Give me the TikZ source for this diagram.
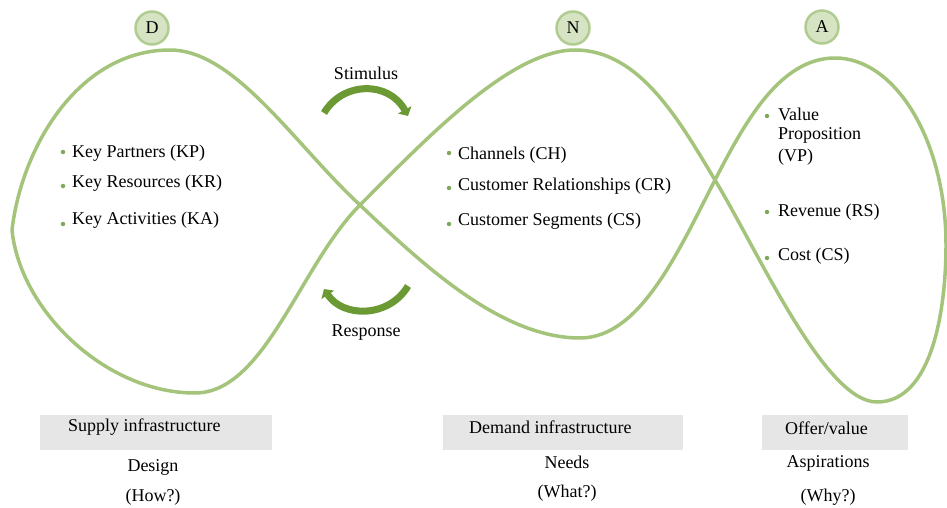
\documentclass[tikz,border=0pt]{standalone}
\usepackage{fontspec}
\setmainfont{Liberation Serif}
\usetikzlibrary{arrows.meta}
\definecolor{loopgreen}{HTML}{A3C47A}
\definecolor{arrowgreen}{HTML}{6B9A34}
\definecolor{dotgreen}{HTML}{7FA85A}
\definecolor{badgefill}{HTML}{D6E4C4}
\definecolor{badgeline}{HTML}{B0CC90}
\definecolor{boxgray}{HTML}{E6E6E6}
\tikzset{
  txt/.style={font=\fontsize{18}{20}\selectfont, inner sep=0pt},
  item/.style={txt, anchor=west},
  bullet/.style={circle, fill=dotgreen, inner sep=0pt, minimum size=4.5pt},
  badge/.style={circle, fill=badgefill, draw=badgeline, line width=2.5pt,
                minimum size=33pt, inner sep=0pt, font=\fontsize{18}{20}\selectfont},
  band/.style={fill=boxgray, draw=none},
  loopline/.style={draw=loopgreen, line width=3.5pt, line join=round},
  cycarrow/.style={draw=arrowgreen, line width=7pt,
                   -{Triangle[width=15pt,length=7pt]}},
}
\begin{document}
\begin{tikzpicture}[x=1pt,y=-1pt]
\useasboundingbox (0,0) rectangle (947,508);

% the three-lobed loop, crossing itself at (mid) and (right)
\coordinate (mid) at (360,205);
\coordinate (right) at (715,180);
\draw[loopline]
  (mid) .. controls (425,140) and (510,50) .. (575,50)
        .. controls (640,50) and (680,122) .. (right)
        .. controls (760,255) and (825,402) .. (877,402)
        .. controls (932,402) and (946,310) .. (946,245)
        .. controls (946,140) and (895,58) .. (835,58)
        .. controls (780,58) and (745,122) .. (right)
        .. controls (678,252) and (640,338) .. (580,338)
        .. controls (500,338) and (420,262) .. (mid)
        .. controls (295,145) and (235,50) .. (170,50)
        .. controls (80,50) and (22,145) .. (12,230)
        .. controls (20,310) and (105,393) .. (195,393)
        .. controls (265,393) and (300,265) .. (mid);

% badges
\node[badge] (D) at (152,28) {D};
\node[badge] (N) at (573,28) {N};
\node[badge] (A) at (822,27) {A};

% stimulus / response arrows
\coordinate (s1) at (324,113);
\coordinate (s2) at (408,116);
\coordinate (r1) at (408,286);
\coordinate (r2) at (324,289);
\draw[cycarrow] (s1) .. controls (343,81) and (389,81) .. (s2);
\draw[cycarrow] (r1) .. controls (389,318) and (343,318) .. (r2);
\node[txt] (stim) at (366,73) {Stimulus};
\node[txt] (resp) at (366,333) {Response};

% supply side items
\node[bullet] (b1) at (63,152) {};
\node[item] (kp) at (72,153) {Key Partners (KP)};
\node[bullet] (b2) at (63,186) {};
\node[item] (kr) at (72,183) {Key Resources (KR)};
\node[bullet] (b3) at (63,224) {};
\node[item] (ka) at (72,220) {Key Activities (KA)};

% demand side items
\node[bullet] (c1) at (449,153) {};
\node[item] (ch) at (458,155) {Channels (CH)};
\node[bullet] (c2) at (449,188) {};
\node[item] (cr) at (458,186) {Customer Relationships (CR)};
\node[bullet] (c3) at (449,224) {};
\node[item] (cs) at (458,221) {Customer Segments (CS)};

% offer side items
\node[bullet] (v1) at (767,116) {};
\node[item] (vp1) at (778,114) {Value};
\node[item] (vp2) at (778,135) {Proposition};
\node[item] (vp3) at (778,157) {(VP)};
\node[bullet] (v2) at (767,212) {};
\node[item] (rs) at (778,212) {Revenue (RS)};
\node[bullet] (v3) at (767,258) {};
\node[item] (co) at (778,256) {Cost (CS)};

% bottom labels
\fill[band] (40,415) rectangle (272,450);
\fill[band] (443,415) rectangle (683,450);
\fill[band] (762,415) rectangle (908,450);
\node[item] (sup) at (68,427) {Supply infrastructure};
\node[item] (dem) at (469,427) {Demand infrastructure};
\node[item] (off) at (785,428) {Offer/value};
\node[txt] (des) at (153,467) {Design};
\node[txt] (how) at (153,497) {(How?)};
\node[txt] (nee) at (567,462) {Needs};
\node[txt] (wha) at (567,493) {(What?)};
\node[txt] (asp) at (828,463) {Aspirations};
\node[txt] (why) at (828,497) {(Why?)};
\end{tikzpicture}
\end{document}
